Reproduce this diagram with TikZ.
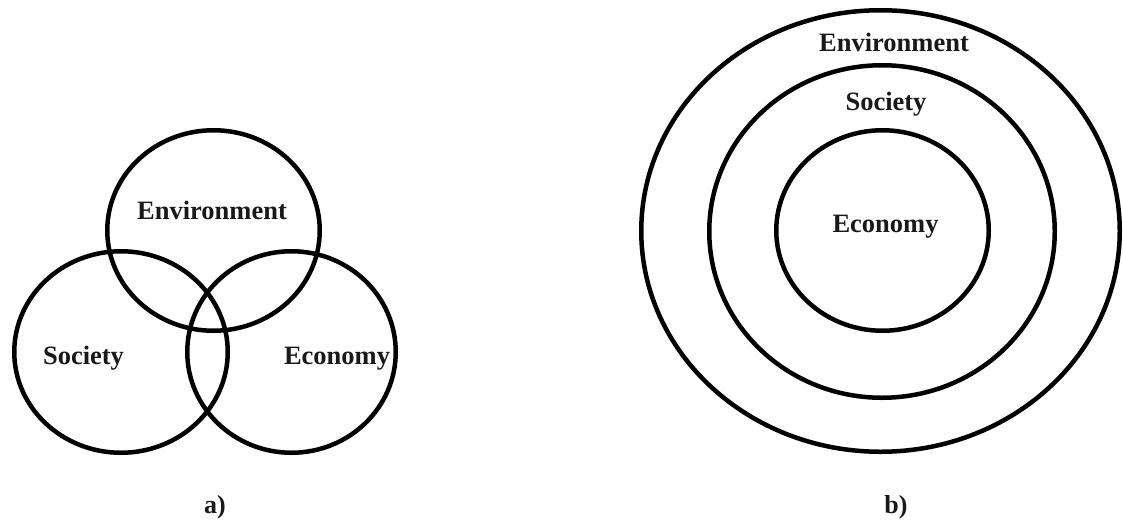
\documentclass[tikz,border=0pt]{standalone}
\usepackage{fontspec}
\setmainfont{Liberation Serif}
\usetikzlibrary{shapes.geometric}
\begin{document}
\begin{tikzpicture}[x=1pt,y=-1pt,
  ring/.style={draw=black, line width=4.5pt, ellipse, inner sep=0pt, outer sep=0pt},
  lbl/.style={font=\fontsize{26.5}{30}\selectfont\bfseries, text=black!90, anchor=base, inner sep=0pt},
  sublbl/.style={font=\fontsize{26}{30}\selectfont\bfseries, text=black!90, anchor=base, inner sep=0pt}]
\useasboundingbox[fill=white] (0,0) rectangle (1123,522);
% a) Venn diagram
\node[ring, minimum width=212.5pt, minimum height=200.5pt] (envA) at (213.5,230.5) {};
\node[ring, minimum width=213.5pt, minimum height=201.5pt] (socA) at (121,352) {};
\node[ring, minimum width=208.5pt, minimum height=201.5pt] (ecoA) at (291.5,352) {};
\node[lbl] (tEnvA) at (212,219) {Environment};
\node[lbl] (tSocA) at (83.5,364) {Society};
\node[lbl] (tEcoA) at (337,364) {Economy};
\node[sublbl] (capA) at (215,513) {a)};
% b) nested
\node[ring, minimum width=478.5pt, minimum height=441.5pt] (envB) at (880.5,231) {};
\node[ring, minimum width=345.5pt, minimum height=332.5pt] (socB) at (882,231.5) {};
\node[ring, minimum width=212.5pt, minimum height=200.5pt] (ecoB) at (882.5,230.5) {};
\node[lbl] (tEnvB) at (894,51) {Environment};
\node[lbl] (tSocB) at (886,110) {Society};
\node[lbl] (tEcoB) at (885.5,232) {Economy};
\node[sublbl] (capB) at (896,513) {b)};
\end{tikzpicture}
\end{document}
